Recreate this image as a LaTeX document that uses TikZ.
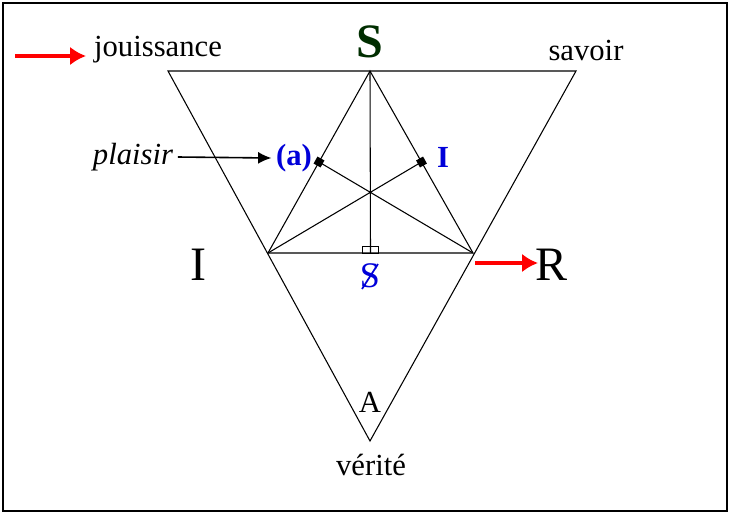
\documentclass[tikz,border=0pt]{standalone}
\usepackage{fontspec}
\setmainfont{Liberation Serif}
\usetikzlibrary{arrows.meta,calc}
\begin{document}
\begin{tikzpicture}[x=0.75pt,y=-0.75pt,
  ln/.style={black,line width=0.8pt},
  red/.style={draw=red,line width=2.8pt,-{Latex[length=12pt,width=14pt]}},
  bl/.style={text=blue!85!black,font=\fontsize{23}{25}\selectfont\bfseries},
  tx/.style={font=\fontsize{23}{25}\selectfont}]
\draw[line width=0.8pt] (3,3) rectangle (727,511);
\useasboundingbox (0,0) rectangle (731,515);
\coordinate (TL) at (168,71); \coordinate (TR) at (576,71); \coordinate (B) at (370,441);
\coordinate (S) at (370,71); \coordinate (L) at (268,253); \coordinate (Rv) at (473,253);
\draw[ln] (TL)--(TR)--(B)--cycle;
\draw[ln] (S)--(L)--(Rv)--cycle;
\coordinate (mL) at ($(S)!0.5!(L)$);
\coordinate (mR) at ($(S)!0.5!(Rv)$);
\coordinate (mB) at ($(L)!0.5!(Rv)$);
\draw[ln] (S)--(mB) (L)--(mR) (Rv)--(mL);
\fill[rotate around={-29:(mL)}] ($(mL)+(-4,-4)$) rectangle ($(mL)+(4,4)$);
\fill[rotate around={29:(mR)}] ($(mR)+(-4,-4)$) rectangle ($(mR)+(4,4)$);
\draw[line width=0.6pt] (362,253) rectangle (378,246);
\node[font=\fontsize{36}{38}\selectfont\bfseries,text=black!70!green!60!black] (s) at (370,42) {S};
\node[tx] (jou) at (158,50) {jouissance};
\node[tx] (sav) at (586,50) {savoir};
\coordinate (j0) at (15,56); \coordinate (j1) at (86,56); \draw[red] (j0)--(j1);
\node[tx,font=\fontsize{23}{25}\selectfont\itshape] (pl) at (133,157) {plaisir};
\node[bl] (a) at (294,158) {(a)};
\node[bl] (I2) at (443,157) {I};
\draw[line width=1.2pt,-{Latex[length=10pt,width=9pt]}] (pl.east)--(a.west);
\node[font=\fontsize{36}{38}\selectfont] (I) at (198,265) {I};
\node[font=\fontsize{36}{38}\selectfont] (R) at (551,265) {R};
\coordinate (r0) at (475,263); \coordinate (r1) at (538,263); \draw[red] (r0)--(r1);
\node[bl,font=\fontsize{27}{29}\selectfont] (bs) at (370,276) {S};
\draw[blue!85!black,line width=1.3pt] (362,289)--(378,264);
\node[font=\fontsize{23}{25}\selectfont] (A) at (370,402) {A};
\node[tx] (v) at (371,465) {vérité};
\end{tikzpicture}
\end{document}
